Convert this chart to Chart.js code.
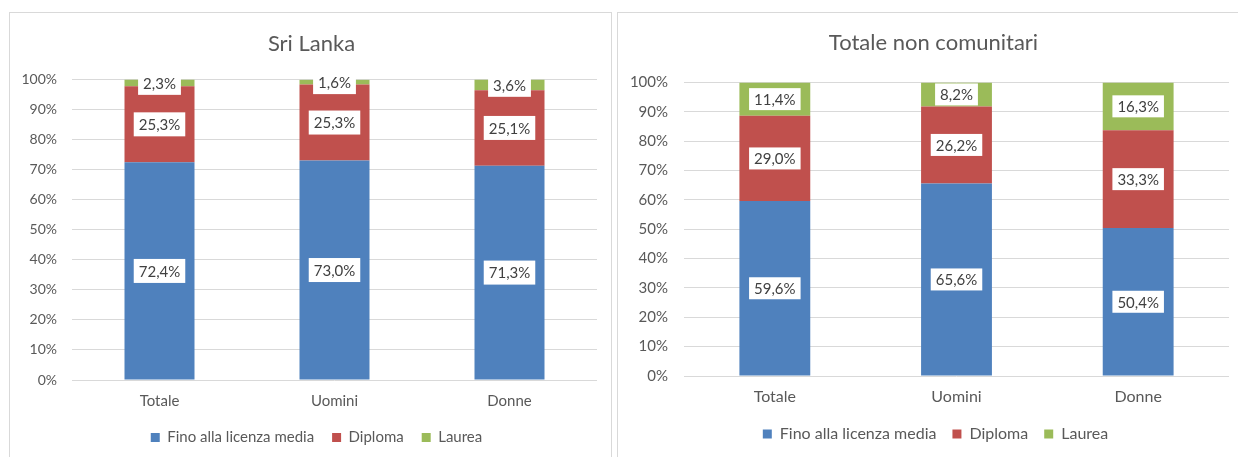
<!DOCTYPE html>
<html>
<head>
<meta charset="utf-8">
<script src="https://cdn.jsdelivr.net/npm/chart.js@4.4.1/dist/chart.umd.min.js"></script>
<style>
  body { margin: 0; background: #fff; width: 1238px; height: 457px; overflow: hidden; position: relative; }
  .panel { position: absolute; border: 1px solid #d9d9d9; background: #fff; }
  #p1 { left: 9px; top: 12px; width: 601px; height: 460px; }
  #p2 { left: 617px; top: 12px; width: 630px; height: 460px; }
  canvas { display: block; }
</style>
</head>
<body>
<div class="panel" id="p1"><canvas id="c1" width="601" height="446"></canvas></div>
<div class="panel" id="p2"><canvas id="c2" width="623" height="446"></canvas></div>
<script>
// categories and series
const categories = ["Totale", "Uomini", "Donne"];
const seriesNames = ["Fino alla licenza media", "Diploma", "Laurea"];
const seriesColors = ["#4f81bd", "#c0504d", "#9bbb59"];

// Sri Lanka
const slFino = [72.4, 73.0, 71.3];
const slDiploma = [25.3, 25.3, 25.1];
const slLaurea = [2.3, 1.6, 3.6];

// Totale non comunitari
const ncFino = [59.6, 65.6, 50.4];
const ncDiploma = [29.0, 26.2, 33.3];
const ncLaurea = [11.4, 8.2, 16.3];

const FONT = "Lato, 'Noto Sans', sans-serif";
const GREY = "#595959";

// white boxes with the value, centred on each segment
const valueLabels = {
  id: "valueLabels",
  afterDatasetsDraw(chart, args, opts) {
    const ctx = chart.ctx;
    ctx.save();
    ctx.font = opts.size + "px " + FONT;
    ctx.textAlign = "center";
    ctx.textBaseline = "middle";
    chart.data.datasets.forEach((ds, i) => {
      const meta = chart.getDatasetMeta(i);
      meta.data.forEach((bar, j) => {
        const txt = ds.data[j].toFixed(1).replace(".", ",") + "%";
        const cy = (bar.y + bar.base) / 2;
        const w = ctx.measureText(txt).width + 10;
        const h = opts.boxH;
        ctx.fillStyle = "#fff";
        ctx.fillRect(bar.x - w / 2, cy - h / 2, w, h);
        ctx.fillStyle = "#404040";
        ctx.fillText(txt, bar.x, cy + 1);
      });
    });
    ctx.restore();
  }
};

// nudge title and legend sideways, like the Excel layout
const shiftBlocks = {
  id: "shiftBlocks",
  afterLayout(chart, args, opts) {
    if (chart.titleBlock) {
      chart.titleBlock.left += opts.title;
      chart.titleBlock.right += opts.title;
    }
    if (chart.legend) {
      chart.legend.left += opts.legend;
      chart.legend.right += opts.legend;
    }
  }
};

function makeChart(id, title, fino, diploma, laurea, cfg) {
  const values = [fino, diploma, laurea];
  return new Chart(document.getElementById(id), {
    type: "bar",
    data: {
      labels: categories,
      datasets: seriesNames.map((name, i) => ({
        label: name,
        data: values[i],
        backgroundColor: seriesColors[i],
        barPercentage: cfg.barPct,
        categoryPercentage: 1
      }))
    },
    options: {
      responsive: false,
      animation: false,
      layout: { padding: { left: 0, right: cfg.padR, top: 0, bottom: cfg.padB } },
      plugins: {
        title: {
          display: true, text: title, color: GREY,
          font: { family: FONT, size: 22, weight: "normal" },
          padding: { top: cfg.titleTop, bottom: cfg.titleBottom }
        },
        legend: {
          position: "bottom",
          labels: {
            boxWidth: 9, boxHeight: 9, padding: cfg.legendPad, color: GREY,
            font: { family: FONT, size: cfg.legendSize }
          }
        },
        tooltip: { enabled: false },
        valueLabels: { size: cfg.labelSize, boxH: cfg.boxH },
        shiftBlocks: { title: cfg.dxTitle, legend: cfg.dxLegend }
      },
      scales: {
        x: {
          stacked: true,
          grid: { display: false, drawTicks: false },
          border: { display: false },
          ticks: { color: GREY, font: { family: FONT, size: cfg.xSize }, padding: cfg.xPad },
          afterFit: s => { s.height = cfg.xH; }
        },
        y: {
          stacked: true, min: 0, max: 100,
          grid: { color: "#d9d9d9", drawTicks: false },
          border: { display: false },
          ticks: {
            stepSize: 10, color: GREY, padding: cfg.yPad,
            font: { family: FONT, size: cfg.ySize },
            callback: v => v + "%"
          },
          afterFit: s => { s.width = cfg.yW; }
        }
      }
    },
    plugins: [valueLabels, shiftBlocks]
  });
}

makeChart("c1", "Sri Lanka", slFino, slDiploma, slLaurea, {
  barPct: 0.4, padR: 14, padB: 4, titleTop: 18, titleBottom: 22,
  legendSize: 15, legendPad: 18, labelSize: 15, boxH: 24, xSize: 15, xPad: 12, xH: 32,
  ySize: 14, yPad: 15, yW: 62, dxTitle: 8, dxLegend: 13
});

makeChart("c2", "Totale non comunitari", ncFino, ncDiploma, ncLaurea, {
  barPct: 0.39, padR: 12, padB: 7, titleTop: 17, titleBottom: 26,
  legendSize: 16, legendPad: 16, labelSize: 15, boxH: 22, xSize: 16, xPad: 11, xH: 34,
  ySize: 15, yPad: 16, yW: 66, dxTitle: 10, dxLegend: 12
});
</script>
</body>
</html>
